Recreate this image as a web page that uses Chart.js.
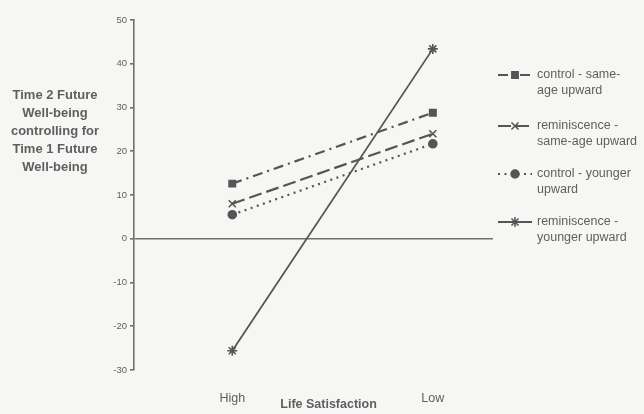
<!DOCTYPE html>
<html>
<head>
<meta charset="utf-8">
<script src="https://cdn.jsdelivr.net/npm/chart.js@4/dist/chart.umd.min.js"></script>
<style>
  body { margin: 0; background: #f6f6f5; }
  #wrap { width: 644px; height: 414px; }
</style>
</head>
<body>
<div id="wrap"><canvas id="lsChart" width="644" height="414"></canvas></div>
<script>
// Life satisfaction x condition - time 2 future well-being
const categories = ['High', 'Low'];
const seriesNames = [
  ['control - same-', 'age upward'],
  ['reminiscence -', 'same-age upward'],
  ['control - younger', 'upward'],
  ['reminiscence -', 'younger upward']
];
const controlSameAge = [12.6, 28.8];
const reminSameAge = [8.0, 24.0];
const controlYounger = [5.5, 21.7];
const reminYounger = [-25.6, 43.4];
const yTicks = [50, 40, 30, 20, 10, 0, -10, -20, -30];

const grey = '#5f5f5f';
const lineGrey = '#555555';

function pts(vals) {
  return vals.map((v, i) => ({ x: i, y: v }));
}

const styles = [
  { dash: [10, 5, 2, 5], point: 'rect', radius: 4.5, width: 2.2 },
  { dash: [13, 5], point: 'crossRot', radius: 5, width: 2.2 },
  { dash: [2, 4.5], point: 'circle', radius: 4, width: 2.2 },
  { dash: [], point: 'star', radius: 5, width: 1.8 }
];
const allValues = [controlSameAge, reminSameAge, controlYounger, reminYounger];

// left side y title, x title and the legend on the right
const extras = {
  id: 'extras',
  afterDraw(chart) {
    const c = chart.ctx;
    c.save();
    c.fillStyle = grey;
    c.textAlign = 'center';
    c.textBaseline = 'middle';
    c.font = 'bold 13px "Liberation Sans", Arial, sans-serif';
    const yTitle = ['Time 2 Future', 'Well-being', 'controlling for', 'Time 1 Future', 'Well-being'];
    yTitle.forEach((t, i) => c.fillText(t, 55, 95 + i * 18.2));
    c.font = 'bold 12.5px "Liberation Sans", Arial, sans-serif';
    c.fillText('Life Satisfaction', chart.scales.x.getPixelForValue(0.48), 405);

    c.textAlign = 'left';
    c.font = '12.5px "Liberation Sans", Arial, sans-serif';
    const rows = [75, 126, 174, 222];
    styles.forEach((s, i) => {
      const y = rows[i];
      c.strokeStyle = lineGrey;
      c.fillStyle = lineGrey;
      c.lineWidth = s.width;
      c.setLineDash(s.dash);
      c.beginPath();
      c.moveTo(498, y);
      c.lineTo(532, y);
      c.stroke();
      c.setLineDash([]);
      c.lineWidth = 1.5;
      Chart.helpers.drawPoint(c, {
        pointStyle: s.point, radius: s.radius, rotation: 0, borderWidth: 1.5
      }, 515, y);
      c.fillStyle = grey;
      c.fillText(seriesNames[i][0], 537, y);
      c.fillText(seriesNames[i][1], 537, y + 16);
    });
    c.restore();
  }
};

const ctx = document.getElementById('lsChart');
new Chart(ctx, {
  type: 'line',
  data: {
    datasets: allValues.map((vals, i) => ({
      label: seriesNames[i].join(' '),
      data: pts(vals),
      borderColor: lineGrey,
      backgroundColor: lineGrey,
      borderWidth: styles[i].width,
      borderDash: styles[i].dash,
      pointStyle: styles[i].point,
      pointRadius: styles[i].radius,
      pointBorderWidth: 1.6,
      pointBorderColor: lineGrey,
      pointBackgroundColor: lineGrey,
      tension: 0,
      clip: false
    }))
  },
  options: {
    responsive: false,
    animation: false,
    devicePixelRatio: 1,
    layout: { padding: { left: 0, top: 20, right: 151, bottom: 0 } },
    plugins: {
      legend: { display: false },
      tooltip: { enabled: false }
    },
    scales: {
      x: {
        type: 'linear',
        min: -0.49,
        max: 1.3,
        afterBuildTicks: s => { s.ticks = categories.map((c, i) => ({ value: i })); },
        afterFit: s => { s.height = 44; },
        grid: { display: false },
        border: { display: false },
        ticks: {
          callback: v => categories[v],
          padding: 13,
          color: grey,
          font: { family: '"Liberation Sans", Arial, sans-serif', size: 12.5 }
        }
      },
      y: {
        min: -30,
        max: 50,
        afterBuildTicks: s => { s.ticks = yTicks.map(v => ({ value: v })); },
        afterFit: s => { s.width = 134; },
        grid: {
          color: c => (c.tick && c.tick.value === 0 ? '#707070' : 'rgba(0,0,0,0)'),
          tickColor: '#707070',
          tickLength: 4,
          lineWidth: 1.6
        },
        border: { display: true, color: '#707070', width: 1.6 },
        ticks: {
          padding: 3,
          color: grey,
          font: { family: '"Liberation Sans", Arial, sans-serif', size: 9.5 }
        }
      }
    }
  },
  plugins: [extras]
});
</script>
</body>
</html>
